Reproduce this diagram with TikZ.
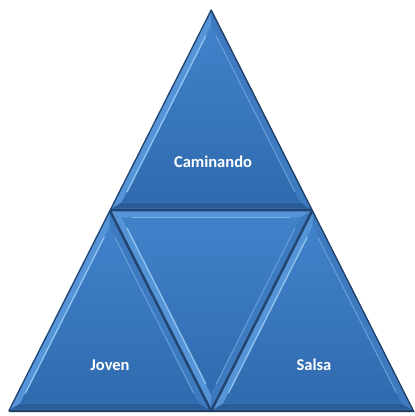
\documentclass[tikz,border=0pt]{standalone}
\usepackage{fontspec}
\setmainfont{Carlito}
\usetikzlibrary{calc}

\definecolor{facetop}{RGB}{64,130,202}
\definecolor{facebot}{RGB}{48,106,174}
\definecolor{bevlight}{RGB}{86,148,216}
\definecolor{bevmid}{RGB}{62,122,192}
\definecolor{bevdark}{RGB}{42,92,154}
\definecolor{ridge}{RGB}{146,196,242}
\definecolor{seam}{RGB}{34,70,116}

\tikzset{
  label/.style={text=white, font=\bfseries\fontsize{16.5}{18}\selectfont},
}

% Upward facet around incenter (#1,#2); outer inset 1.5, inner bevel inset 7.5
\newcommand\upfacet[2]{%
  \coordinate (oA) at ({#1},{#2+138.6*0.976});
  \coordinate (oL) at ({#1-101.5*0.976},{#2-62.4*0.976});
  \coordinate (oR) at ({#1+101.5*0.976},{#2-62.4*0.976});
  \coordinate (iA) at ({#1},{#2+138.6*0.88});
  \coordinate (iL) at ({#1-101.5*0.88},{#2-62.4*0.88});
  \coordinate (iR) at ({#1+101.5*0.88},{#2-62.4*0.88});
  \fill[bevlight] (oA) -- (oL) -- (oR) -- cycle;
  \fill[bevmid] (oA) -- (oR) -- (iR) -- (iA) -- cycle;
  \fill[bevdark] (oL) -- (oR) -- (iR) -- (iL) -- cycle;
  \shade[top color=facetop, bottom color=facebot] (iA) -- (iL) -- (iR) -- cycle;
  \draw[ridge, line width=1.3pt, line cap=round] ($(iL)!0.06!(iA)$) -- ($(iL)!0.94!(iA)$);
  \draw[ridge!55!bevmid, line width=0.9pt, line cap=round] ($(iR)!0.06!(iA)$) -- ($(iR)!0.94!(iA)$);
}
% Downward facet around incenter (#1,#2)
\newcommand\downfacet[2]{%
  \coordinate (oA) at ({#1},{#2-138.6*0.976});
  \coordinate (oL) at ({#1-101.5*0.976},{#2+62.4*0.976});
  \coordinate (oR) at ({#1+101.5*0.976},{#2+62.4*0.976});
  \coordinate (iA) at ({#1},{#2-138.6*0.88});
  \coordinate (iL) at ({#1-101.5*0.88},{#2+62.4*0.88});
  \coordinate (iR) at ({#1+101.5*0.88},{#2+62.4*0.88});
  \fill[bevlight] (oA) -- (oL) -- (oR) -- cycle;
  \fill[bevmid] (oA) -- (oR) -- (iR) -- (iA) -- cycle;
  \shade[top color=facetop, bottom color=facebot] (iA) -- (iL) -- (iR) -- cycle;
  \draw[ridge, line width=1.3pt, line cap=round] ($(iL)!0.06!(iA)$) -- ($(iL)!0.94!(iA)$);
  \draw[ridge!55!bevmid, line width=0.9pt, line cap=round] ($(iR)!0.06!(iA)$) -- ($(iR)!0.94!(iA)$);
  \draw[ridge!60!bevlight, line width=0.9pt, line cap=round] ($(iL)!0.06!(iR)$) -- ($(iL)!0.94!(iR)$);
}

\begin{document}
\begin{tikzpicture}[x=1pt, y=1pt]
  \useasboundingbox (0,0) rectangle (415,416);

  % outer frame of the pyramid with a slight shadow
  \coordinate (apex) at (211,407);
  \coordinate (bl) at (8,5);
  \coordinate (br) at (414,5);
  \fill[seam!80!black] ($(apex)+(0.8,-0.8)$) -- ($(bl)+(0.8,-1.2)$) -- ($(br)+(0.8,-1.2)$) -- cycle;
  \fill[seam] (apex) -- (bl) -- (br) -- cycle;

  % four facets
  \upfacet{211}{268.4}
  \upfacet{109.5}{67.4}
  \upfacet{312.5}{67.4}
  \downfacet{211}{143.6}

  % labels
  \node[label] (cam) at (213,254) {Caminando};
  \node[label] (jov) at (110,51) {Joven};
  \node[label] (sal) at (314,51) {Salsa};
\end{tikzpicture}
\end{document}
